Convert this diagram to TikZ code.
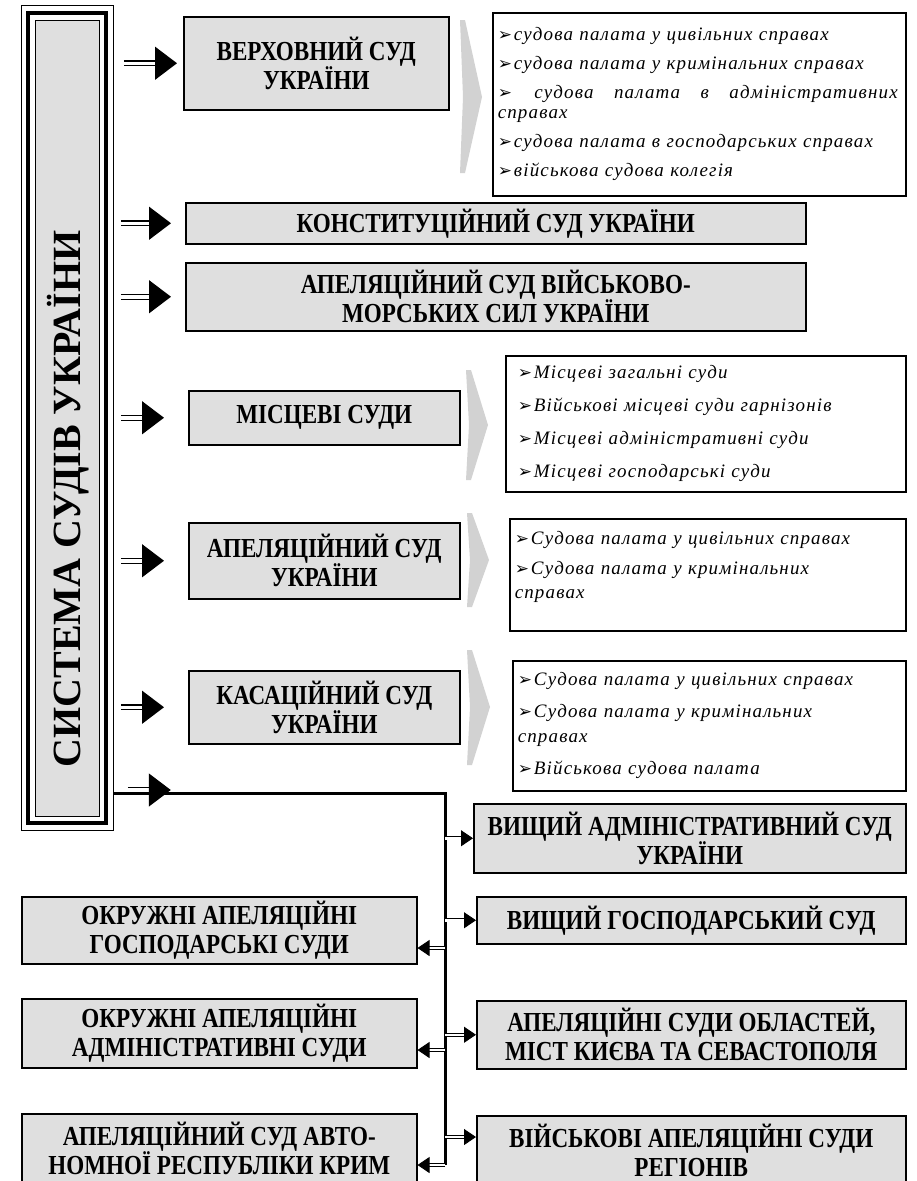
\documentclass[tikz,border=0pt]{standalone}
\usepackage{fontspec}
\setmainfont{Liberation Serif}
\newfontfamily\courtfont[FakeStretch=0.84]{Liberation Serif}
\newfontfamily\itemfont[LetterSpace=6]{Liberation Serif}
\newfontfamily\bulletfont{DejaVu Sans}
\usetikzlibrary{arrows.meta}
\usetikzlibrary{positioning}

\newcommand{\itm}{{\bulletfont\fontsize{17}{17}\selectfont ➢}\hspace{2pt}}

\begin{document}
\begin{tikzpicture}[x=1pt, y=-1pt,
    court/.style={draw, line width=1.5pt, fill=gray!25, anchor=north west, align=center, inner sep=1pt, font=\courtfont\bfseries\fontsize{27.5}{29}\selectfont},
    sublist/.style={draw, line width=1.5pt, anchor=north west, align=left, inner xsep=5pt, inner ysep=0pt, font=\itemfont\itshape\fontsize{19}{20}\selectfont},
    chev/.style={fill=gray!35},
    bigarr/.style={double, double distance=3.5pt, line width=1.3pt, -{Triangle[length=22pt, width=33pt]}},
    smallarr/.style={double, double distance=2.5pt, line width=0.9pt, -{Triangle[length=12pt, width=16pt]}},
    trunk/.style={line width=3pt},
  ]

  \useasboundingbox (0,0) rectangle (916,1181);

  % System frame
  \node[draw, line width=0.8pt, anchor=north west, minimum width=92, minimum height=825] (frame) at (21,5) {};
  \draw[line width=3.5pt] (28,13) rectangle (106,823);
  \node[draw, line width=0.8pt, fill=gray!25, anchor=north west, minimum width=64, minimum height=796] (sys) at (35,20) {};
  \node[rotate=90, font=\bfseries\fontsize{40}{40}\selectfont] (systitle) at (68,499) {СИСТЕМА СУДІВ УКРАЇНИ};

  % Courts in the upper column
  \node[court, minimum width=265, minimum height=93] (ver) at (183,16) {ВЕРХОВНИЙ СУД\\УКРАЇНИ};
  \node[court, minimum width=620, minimum height=41] (konst) at (185,202) {КОНСТИТУЦІЙНИЙ СУД УКРАЇНИ};
  \node[court, minimum width=620, minimum height=68] (vms) at (185,262) {АПЕЛЯЦІЙНИЙ СУД ВІЙСЬКОВО-\\МОРСЬКИХ СИЛ УКРАЇНИ};
  \node[court, minimum width=271, minimum height=54] (misc) at (188,390) {МІСЦЕВІ СУДИ};
  \node[court, minimum width=271, minimum height=76] (apel) at (188,522) {АПЕЛЯЦІЙНИЙ СУД\\УКРАЇНИ};
  \node[court, minimum width=271, minimum height=73] (kasac) at (188,670) {КАСАЦІЙНИЙ СУД\\УКРАЇНИ};

  % Chambers
  \fill[chev] (460,20) -- (465,20) -- (482,97) -- (465,173) -- (460,173) -- (463,97) -- cycle;
  \fill[chev] (466,370) -- (471,370) -- (488,425) -- (471,480) -- (466,480) -- (469,425) -- cycle;
  \fill[chev] (467,513) -- (472,513) -- (489,560) -- (472,607) -- (467,607) -- (470,560) -- cycle;
  \fill[chev] (467,650) -- (472,650) -- (490,707) -- (472,765) -- (467,765) -- (470,707) -- cycle;

  \node[sublist, text width=403, minimum height=183] (versub) at (492,12) {%
    \itm судова палата у цивільних справах\\[9pt]
    \itm судова палата у кримінальних справах\\[9pt]
    \makebox[400pt][s]{\itm\hfill судова\hfill палата\hfill в\hfill адміністративних}\\
    справах\\[9pt]
    \itm судова палата в господарських справах\\[9pt]
    \itm військова судова колегія};
  \node[sublist, inner xsep=12pt, text width=376, minimum height=136] (miscsub) at (505,355) {%
    \itm Місцеві загальні суди\\[13pt]
    \itm Військові місцеві суди гарнізонів\\[13pt]
    \itm Місцеві адміністративні суди\\[13pt]
    \itm Місцеві господарські суди};
  \node[sublist, text width=386, minimum height=112] (apelsub) at (509,518) {%
    \itm Судова палата у цивільних справах\\[10pt]
    \itm Судова палата у кримінальних\\[4pt]
    справах\\ \mbox{}};
  \node[sublist, text width=383, minimum height=130] (kasacsub) at (512,660) {%
    \itm Судова палата у цивільних справах\\[12pt]
    \itm Судова палата у кримінальних\\[5pt]
    справах\\[12pt]
    \itm Військова судова палата};

  % Arrows from the system
  \draw[bigarr] ([xshift=10pt]frame.east |- ver.west) -- ([xshift=-6pt]ver.west);
  \draw[bigarr] ([xshift=7pt]frame.east |- konst.west) -- ([xshift=-14pt]konst.west);
  \draw[bigarr] ([xshift=7pt]frame.east |- vms.west) -- ([xshift=-14pt]vms.west);
  \draw[bigarr] ([xshift=7pt]frame.east |- misc.west) -- ([xshift=-24pt]misc.west);
  \draw[bigarr] ([xshift=7pt]frame.east |- apel.west) -- ([xshift=-24pt]apel.west);
  \draw[bigarr] ([xshift=7pt]frame.east |- kasac.west) -- ([xshift=-24pt]kasac.west);

  % Courts on the branch
  \node[court, minimum width=432, minimum height=69] (vadm) at (473,803) {ВИЩИЙ АДМІНІСТРАТИВНИЙ СУД\\УКРАЇНИ};
  \node[court, minimum width=429, minimum height=47] (vgosp) at (476,896) {ВИЩИЙ ГОСПОДАРСЬКИЙ СУД};
  \node[court, minimum width=429, minimum height=68] (apobl) at (476,1000) {АПЕЛЯЦІЙНІ СУДИ ОБЛАСТЕЙ,\\МІСТ КИЄВА ТА СЕВАСТОПОЛЯ};
  \node[court, minimum width=429, minimum height=70] (vapel) at (476,1115) {ВІЙСЬКОВІ АПЕЛЯЦІЙНІ СУДИ\\РЕГІОНІВ};
  \node[court, minimum width=395, minimum height=67] (ogosp) at (21,896) {ОКРУЖНІ АПЕЛЯЦІЙНІ\\ГОСПОДАРСЬКІ СУДИ};
  \node[court, minimum width=395, minimum height=69] (oadm) at (21,998) {ОКРУЖНІ АПЕЛЯЦІЙНІ\\АДМІНІСТРАТИВНІ СУДИ};
  \node[court, minimum width=395, minimum height=70] (akrym) at (21,1113) {АПЕЛЯЦІЙНИЙ СУД АВТО-\\НОМНОЇ РЕСПУБЛІКИ КРИМ};

  % Branch line
  \coordinate (fork) at (445,793);
  \coordinate (forkend) at (445,1165);
  \coordinate (vapelin) at ([yshift=-22pt]vapel.north west);
  \coordinate (ogospin) at ([yshift=-52pt]ogosp.north east);
  \coordinate (oadmin) at ([yshift=-52pt]oadm.north east);
  \coordinate (akrymin) at ([yshift=-52pt]akrym.north east);
  \draw[trunk] (frame.east |- fork) -- (fork) -- (forkend);
  \draw[bigarr] ([xshift=14pt, yshift=3pt]frame.east |- fork) -- ([xshift=57pt, yshift=3pt]frame.east |- fork);

  \draw[smallarr] (fork |- vadm.west) -- (vadm.west);
  \draw[smallarr] (fork |- vgosp.west) -- (vgosp.west);
  \draw[smallarr] (fork |- apobl.west) -- (apobl.west);
  \draw[smallarr] (fork |- vapelin) -- (vapelin);
  \draw[smallarr] (fork |- ogospin) -- (ogospin);
  \draw[smallarr] (fork |- oadmin) -- (oadmin);
  \draw[smallarr] (fork |- akrymin) -- (akrymin);

\end{tikzpicture}
\end{document}
